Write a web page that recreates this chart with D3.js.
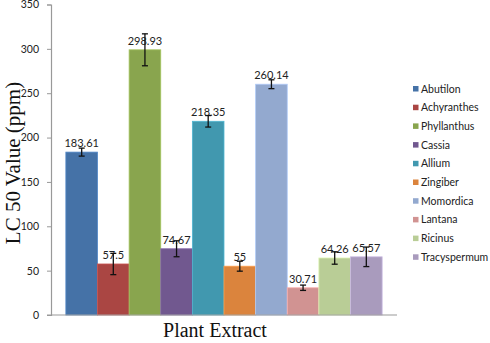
<!DOCTYPE html>
<html lang="en">
  <head>
    <meta charset="utf-8">
    <title>LC 50 Bar Chart</title>
    <script src="https://d3js.org/d3.v7.js"></script>
    <style>
      body { margin: 0; background: #fff; }
    </style>
  </head>

  <body>
    <script>
      // data
      const plants = ["Abutilon", "Achyranthes", "Phyllanthus", "Cassia", "Allium",
        "Zingiber", "Momordica", "Lantana", "Ricinus", "Tracyspermum"];
      const lc50 = [183.61, 57.5, 298.93, 74.67, 218.35, 55, 260.14, 30.71, 64.26, 65.57];
      const errors = [4.5, 12, 18, 9, 6.5, 5.6, 5, 3, 7, 11];
      const yTicks = [0, 50, 100, 150, 200, 250, 300, 350];
      const colors = ["#4572A7", "#AA4643", "#89A54E", "#71588F", "#4198AF",
        "#DB843D", "#93A9CF", "#D19392", "#B9CD96", "#A99BBD"];

      const w = 490;
      const h = 343;
      const margin = { top: 4.5, left: 51, bottom: 28, right: 93 };
      const innerWidth = w - margin.left - margin.right;
      const innerHeight = h - margin.top - margin.bottom;

      const svg = d3.select("body")
        .append("svg")
        .attr("width", w)
        .attr("height", h);

      const xScale = d3.scaleBand()
        .domain(plants)
        .range([0, innerWidth])
        .paddingInner(0)
        .paddingOuter(0.47);

      const yScale = d3.scaleLinear()
        .domain([0, 350])
        .range([innerHeight, 0]);

      const g = svg.append("g")
        .attr("transform", `translate(${margin.left}, ${margin.top})`);

      // bars
      g.selectAll("rect.bar")
        .data(plants)
        .enter().append("rect")
        .attr("class", "bar")
        .attr("x", d => xScale(d))
        .attr("y", (d, i) => yScale(lc50[i]))
        .attr("width", xScale.bandwidth())
        .attr("height", (d, i) => innerHeight - yScale(lc50[i]))
        .attr("fill", (d, i) => colors[i])
        .attr("stroke", (d, i) => d3.color(colors[i]).brighter(0.5))
        .attr("stroke-width", 0.8);

      // value labels (drawn before the error bars, which cross them)
      const cx = d => xScale(d) + xScale.bandwidth() / 2;

      g.selectAll("text.val")
        .data(plants)
        .enter().append("text")
        .attr("class", "val")
        .attr("x", cx)
        .attr("y", (d, i) => yScale(lc50[i]) - 5)
        .attr("text-anchor", "middle")
        .attr("font-family", "Lato, 'Open Sans', sans-serif")
        .attr("font-size", 11)
        .attr("fill", "#222")
        .text((d, i) => lc50[i]);

      // error bars
      const eb = g.selectAll("g.err")
        .data(plants)
        .enter().append("g")
        .attr("class", "err")
        .attr("stroke", "#111")
        .attr("stroke-width", 1.3);

      eb.append("line")
        .attr("x1", cx).attr("x2", cx)
        .attr("y1", (d, i) => yScale(lc50[i] + errors[i]))
        .attr("y2", (d, i) => yScale(lc50[i] - errors[i]));
      eb.append("line")
        .attr("x1", d => cx(d) - 3).attr("x2", d => cx(d) + 3)
        .attr("y1", (d, i) => yScale(lc50[i] + errors[i]))
        .attr("y2", (d, i) => yScale(lc50[i] + errors[i]));
      eb.append("line")
        .attr("x1", d => cx(d) - 3).attr("x2", d => cx(d) + 3)
        .attr("y1", (d, i) => yScale(lc50[i] - errors[i]))
        .attr("y2", (d, i) => yScale(lc50[i] - errors[i]));

      // axes
      const xAxis = g.append("g")
        .attr("transform", `translate(0, ${innerHeight})`);
      xAxis.append("line")
        .attr("x1", -4).attr("x2", innerWidth)
        .attr("stroke", "#999").attr("stroke-width", 1.2);

      const yAxis = d3.axisLeft(yScale)
        .tickValues(yTicks)
        .tickSize(4)
        .tickPadding(8);

      g.append("g")
        .call(yAxis)
        .call(s => s.select(".domain").attr("stroke", "#999").attr("stroke-width", 1.2))
        .call(s => s.selectAll(".tick line").attr("stroke", "#999"))
        .call(s => s.selectAll(".tick text")
          .attr("font-family", "Lato, 'Open Sans', sans-serif")
          .attr("font-size", 10.5)
          .attr("fill", "#222"));

      // axis titles
      svg.append("text")
        .attr("transform", `translate(20, 163) rotate(-90)`)
        .attr("text-anchor", "middle")
        .attr("font-family", "'Liberation Serif', 'DejaVu Serif', serif")
        .attr("font-size", 21)
        .attr("fill", "#111")
        .text("LC 50 Value (ppm)");

      svg.append("text")
        .attr("x", 215)
        .attr("y", 337)
        .attr("text-anchor", "middle")
        .attr("font-family", "'Liberation Serif', 'DejaVu Serif', serif")
        .attr("font-size", 20)
        .attr("fill", "#111")
        .text("Plant Extract");

      // legend
      const legend = svg.append("g")
        .attr("transform", "translate(413, 89)");

      const items = legend.selectAll("g")
        .data(plants)
        .enter().append("g")
        .attr("transform", (d, i) => `translate(0, ${i * 18.7})`);

      items.append("rect")
        .attr("x", 0).attr("y", -3)
        .attr("width", 5.5).attr("height", 5.5)
        .attr("fill", (d, i) => colors[i]);

      items.append("text")
        .attr("x", 8)
        .attr("y", 3.5)
        .attr("font-family", "Lato, 'Open Sans', sans-serif")
        .attr("font-size", 10.5)
        .attr("fill", "#222")
        .text(d => d);
    </script>
  </body>
</html>
